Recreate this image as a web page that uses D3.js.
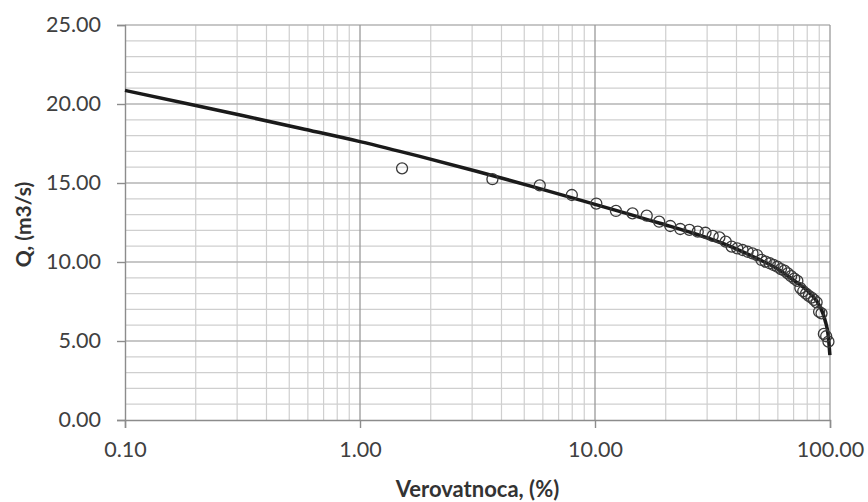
<!DOCTYPE html>
<html>
<head>
<meta charset="utf-8">
<script src="https://cdn.jsdelivr.net/npm/d3@7"></script>
<style>
  html, body { margin: 0; padding: 0; background: #fff; }
  svg { display: block; }
</style>
</head>
<body>
<div id="chart"></div>
<script>
// verovatnoca (%) opazenih proticaja i njihove vrednosti Q (m3/s)
const obsP = [1.51, 3.66, 5.82, 7.97, 10.13, 12.28, 14.44, 16.60, 18.75, 20.91,
  23.06, 25.22, 27.37, 29.53, 31.68, 33.84, 35.99, 38.15, 40.30, 42.46,
  44.61, 46.77, 48.92, 51.08, 53.23, 55.39, 57.54, 59.70, 61.85, 64.01,
  66.16, 68.32, 70.47, 72.63, 74.78, 76.94, 79.09, 81.25, 83.41, 85.56,
  87.72, 89.87, 92.03, 94.18, 96.34, 98.49];
const obsQ = [15.93, 15.24, 14.85, 14.24, 13.70, 13.23, 13.08, 12.93, 12.55, 12.28,
  12.09, 12.03, 11.92, 11.85, 11.65, 11.56, 11.29, 10.97, 10.86, 10.76,
  10.65, 10.55, 10.44, 10.13, 10.02, 9.92, 9.81, 9.70, 9.55, 9.45,
  9.28, 9.10, 8.95, 8.80, 8.35, 8.15, 8.00, 7.85, 7.75, 7.60,
  7.45, 6.85, 6.75, 5.45, 5.30, 4.96];

// teorijska kriva raspodele
const fitP = [0.1, 0.2, 0.316, 0.562, 1.0, 1.78, 3.16, 5.62, 10, 13.6, 18.9, 26.2,
  36.3, 50.4, 59.3, 69.8, 82.2, 90.7, 95.2, 98.4, 99.9];
const fitQ = [20.86, 19.91, 19.27, 18.45, 17.62, 16.70, 15.73, 14.71, 13.65, 13.08, 12.45, 11.82,
  11.08, 10.13, 9.60, 8.86, 8.02, 7.17, 6.33, 5.27, 4.10];

const xTicks = [0.1, 1, 10, 100];
const yTicks = [0, 5, 10, 15, 20, 25];

const width = 868, height = 502;
const margin = { top: 25, right: 38, bottom: 82, left: 125 };
const innerW = width - margin.left - margin.right;
const innerH = height - margin.top - margin.bottom;
const font = "Lato, 'Open Sans', sans-serif";

const svg = d3.select("#chart").append("svg")
  .attr("width", width)
  .attr("height", height)
  .style("font-family", font);

const g = svg.append("g")
  .attr("transform", `translate(${margin.left},${margin.top})`);

const x = d3.scaleLog().domain([0.1, 100]).range([0, innerW]);
const y = d3.scaleLinear().domain([0, 25]).range([innerH, 0]);

// mreza - sporedne linije
const minorX = [];
for (let dec = 0.1; dec < 100; dec *= 10) {
  for (let k = 2; k <= 9; k++) minorX.push(+(dec * k).toPrecision(3));
}
const minorY = d3.range(0, 26).filter(v => v % 5 !== 0);

g.append("g").selectAll("line")
  .data(minorX)
  .join("line")
  .attr("x1", d => x(d)).attr("x2", d => x(d))
  .attr("y1", 0).attr("y2", innerH)
  .attr("stroke", "#cfcfcf").attr("stroke-width", 1.2);

g.append("g").selectAll("line")
  .data(minorY)
  .join("line")
  .attr("x1", 0).attr("x2", innerW)
  .attr("y1", d => y(d)).attr("y2", d => y(d))
  .attr("stroke", "#cfcfcf").attr("stroke-width", 1.2);

// glavne linije mreze
g.append("g").selectAll("line")
  .data(yTicks.slice(1))
  .join("line")
  .attr("x1", 0).attr("x2", innerW)
  .attr("y1", d => y(d)).attr("y2", d => y(d))
  .attr("stroke", "#b4b4b4").attr("stroke-width", 1.3);

g.append("g").selectAll("line")
  .data(xTicks.slice(1))
  .join("line")
  .attr("x1", d => x(d)).attr("x2", d => x(d))
  .attr("y1", 0).attr("y2", innerH)
  .attr("stroke", "#9a9a9a").attr("stroke-width", 1.3);

// ose
const yAxis = g.append("g")
  .call(d3.axisLeft(y).tickValues(yTicks).tickFormat(d3.format(".2f"))
    .tickSize(8).tickPadding(16));
const xAxis = g.append("g")
  .attr("transform", `translate(0,${innerH})`)
  .call(d3.axisBottom(x).tickValues(xTicks).tickFormat(d3.format(".2f"))
    .tickSize(8).tickPadding(14));

[yAxis, xAxis].forEach(ax => {
  ax.select(".domain").attr("stroke", "#8c8c8c").attr("stroke-width", 1.4);
  ax.selectAll(".tick line").attr("stroke", "#8c8c8c").attr("stroke-width", 1.4);
  ax.selectAll(".tick text")
    .attr("fill", "#404040")
    .style("font-family", font)
    .style("font-size", "21.5px");
});

// teorijska kriva
const line = d3.line()
  .x((d, i) => x(fitP[i]))
  .y(d => y(d))
  .curve(d3.curveMonotoneX);

g.append("path")
  .datum(fitQ)
  .attr("d", line)
  .attr("fill", "none")
  .attr("stroke", "#1a1a1a")
  .attr("stroke-width", 3.5)
  .attr("stroke-linejoin", "round");

// opazene vrednosti
g.append("g").selectAll("circle")
  .data(obsQ)
  .join("circle")
  .attr("cx", (d, i) => x(obsP[i]))
  .attr("cy", d => y(d))
  .attr("r", 5.5)
  .attr("fill", "none")
  .attr("stroke", "#3a3a3a")
  .attr("stroke-width", 1.3);

// nazivi osa
svg.append("text")
  .attr("x", margin.left + innerW / 2)
  .attr("y", 497)
  .attr("text-anchor", "middle")
  .attr("fill", "#333")
  .style("font-size", "22px")
  .style("font-weight", "bold")
  .text("Verovatnoca, (%)");

svg.append("text")
  .attr("transform", `translate(31,${margin.top + innerH / 2 + 2}) rotate(-90)`)
  .attr("text-anchor", "middle")
  .attr("fill", "#333")
  .style("font-size", "21px")
  .style("font-weight", "bold")
  .text("Q, (m3/s)");
</script>
</body>
</html>
